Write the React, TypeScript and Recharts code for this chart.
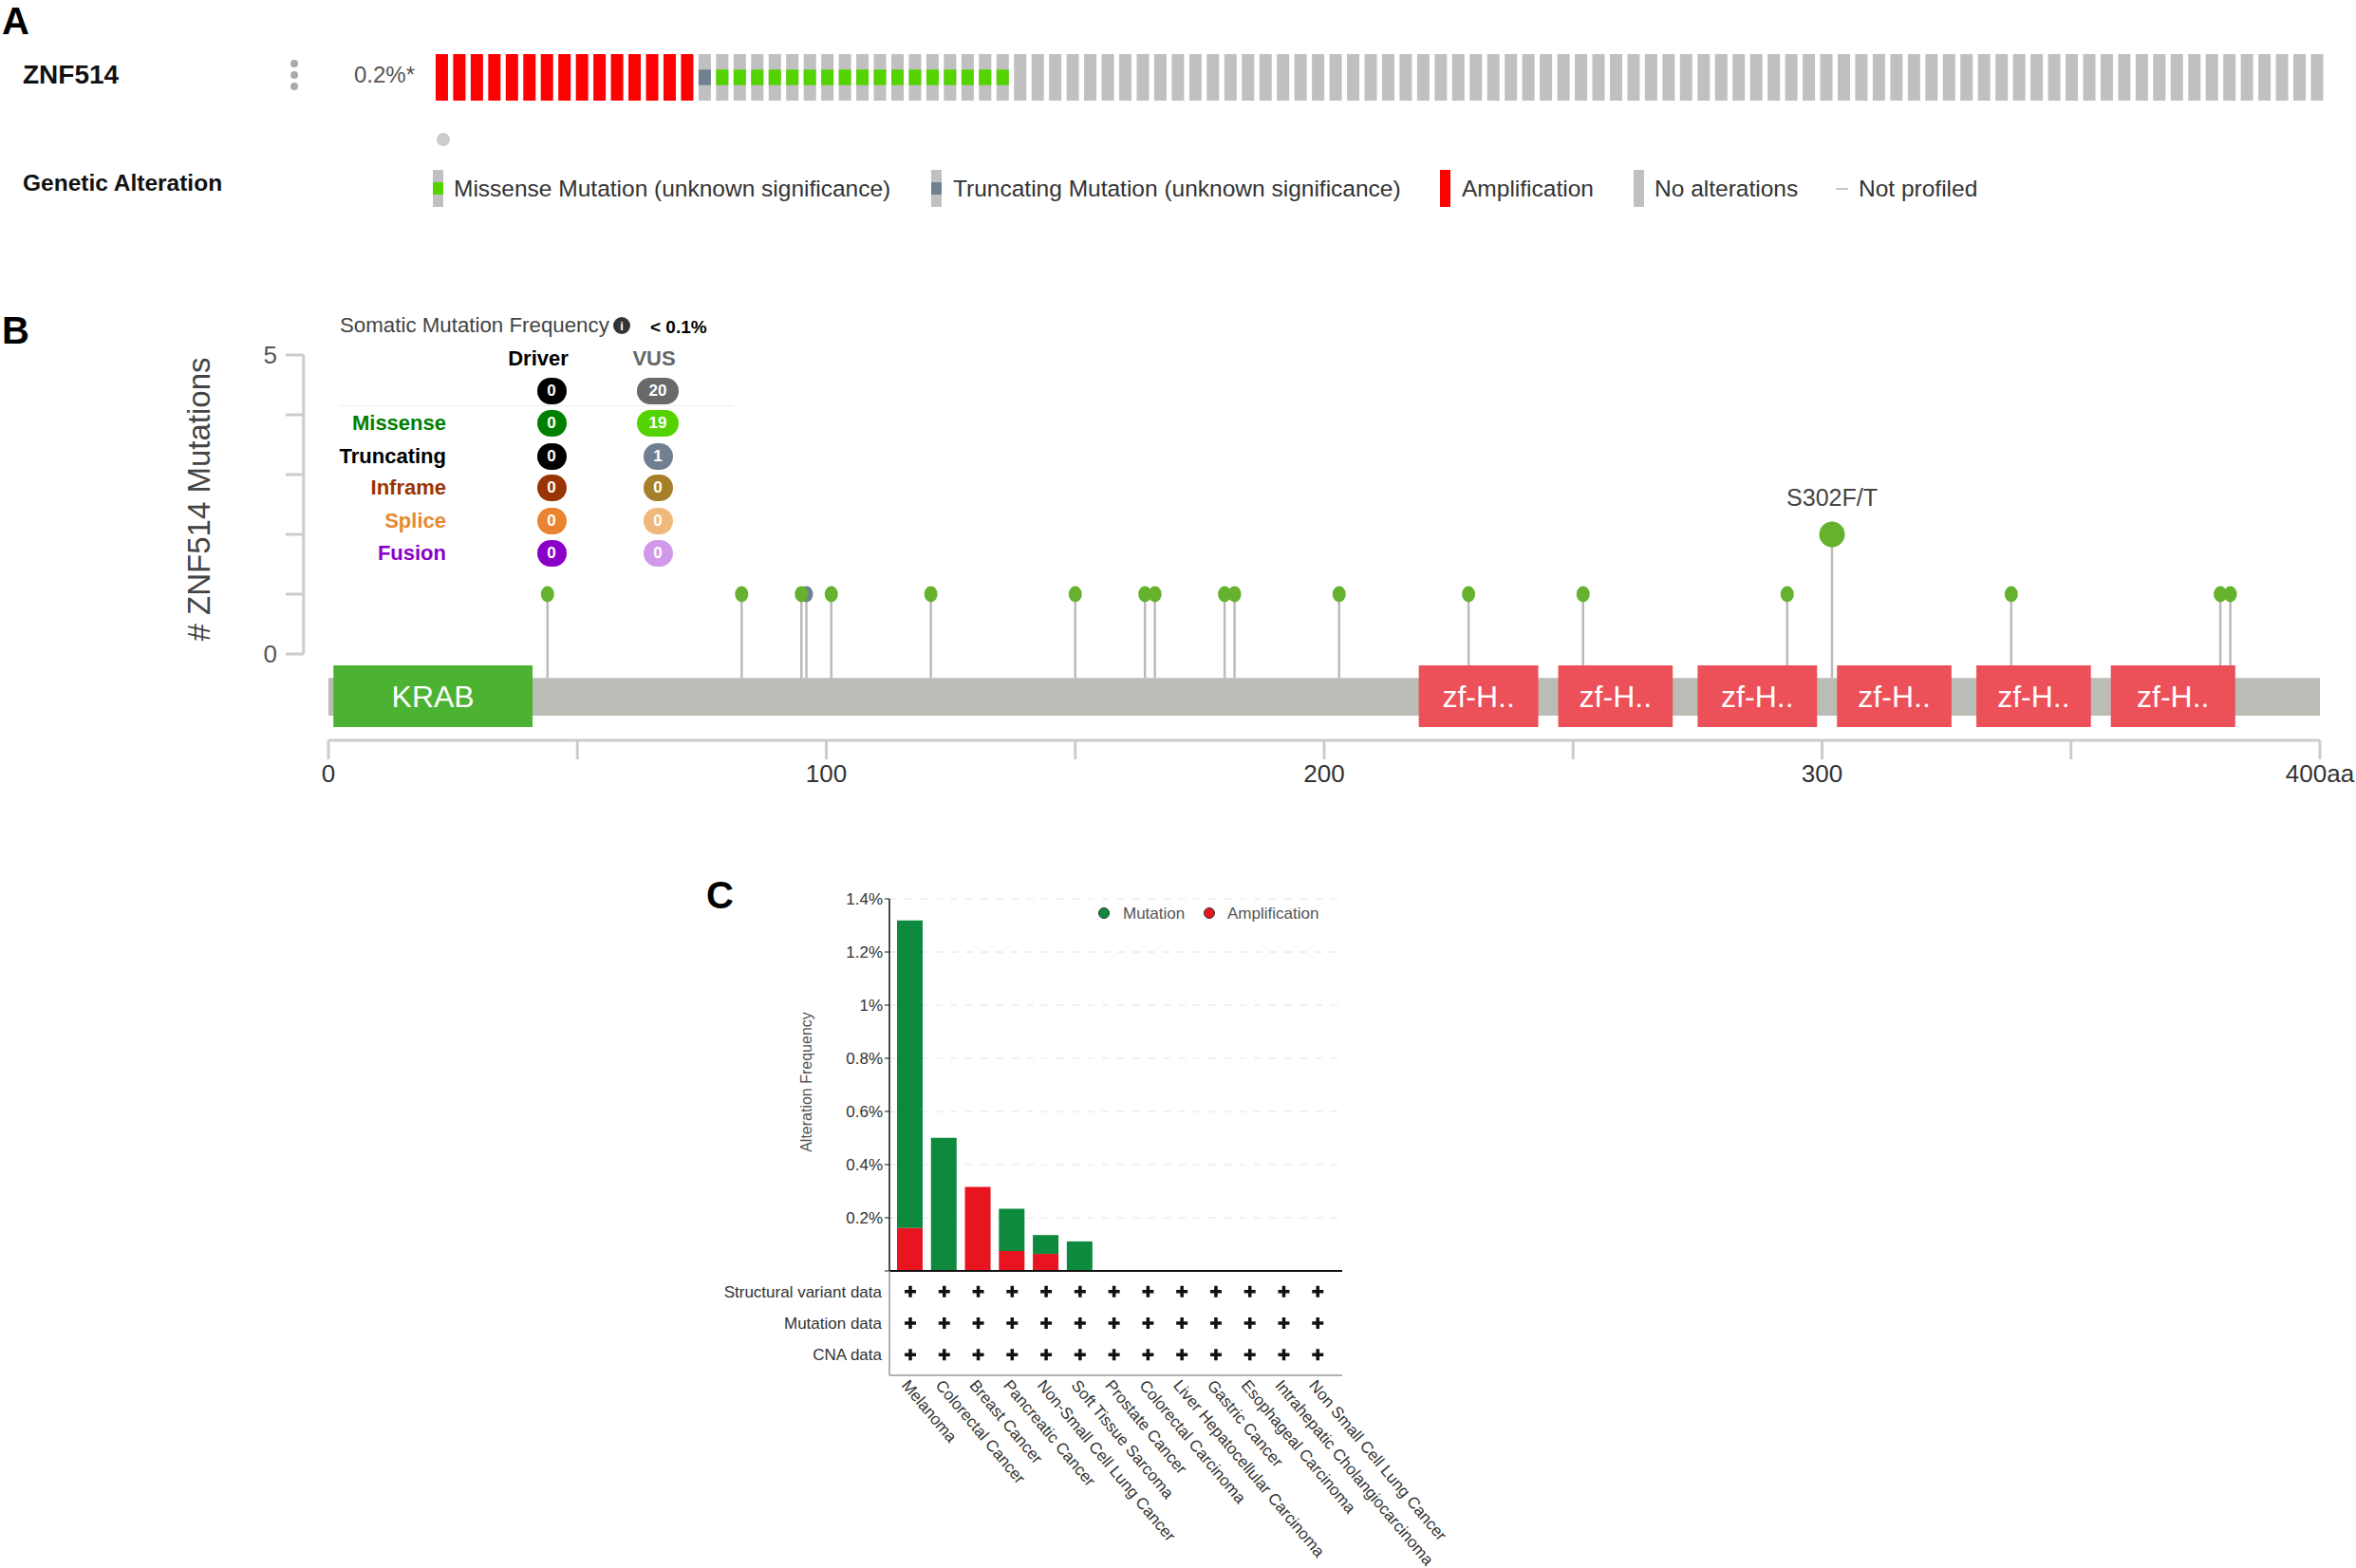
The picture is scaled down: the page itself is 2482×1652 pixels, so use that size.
import React from 'react'
import {
  BarChart, Bar, XAxis, YAxis, CartesianGrid, ScatterChart, Scatter,
  ReferenceLine, ReferenceArea,
} from 'recharts'

const FONT = "'Liberation Sans', Arial, Helvetica, sans-serif"

// ---------- A: oncoprint ----------
const alterationTypes = ['Amplification', 'Truncating', 'Missense', 'None']
const alterationSampleCounts = [15, 1, 17, 75]
const oncoLegendKinds = ['Missense', 'Truncating', 'Amplification', 'None', 'NotProfiled']
const oncoLegendLabels = [
  'Missense Mutation (unknown significance)',
  'Truncating Mutation (unknown significance)',
  'Amplification',
  'No alterations',
  'Not profiled',
]

// ---------- B: lollipop ----------
const proteinLength = 400
const domainNames = ['KRAB', 'zf-H..', 'zf-H..', 'zf-H..', 'zf-H..', 'zf-H..', 'zf-H..']
const domainStarts = [1, 219, 247, 275, 303, 331, 358]
const domainEnds = [41, 243, 270, 299, 326, 354, 383]
const mutationPositions = [44, 83, 95, 96, 101, 121, 150, 164, 166, 180, 182, 203, 229, 252, 293, 302, 338, 380, 382]
const mutationCounts = [1, 1, 1, 1, 1, 1, 1, 1, 1, 1, 1, 1, 1, 1, 1, 2, 1, 1, 1]
const mutationClasses = [
  'Missense', 'Missense', 'Missense', 'Truncating', 'Missense', 'Missense', 'Missense',
  'Missense', 'Missense', 'Missense', 'Missense', 'Missense', 'Missense', 'Missense',
  'Missense', 'Missense', 'Missense', 'Missense', 'Missense',
]
const mutationLabels = ['', '', '', '', '', '', '', '', '', '', '', '', '', '', '', 'S302F/T', '', '', '']
const aaTicks = [0, 50, 100, 150, 200, 250, 300, 350, 400]
const aaTickLabels = ['0', '', '100', '', '200', '', '300', '', '400aa']
const countTicks = [0, 1, 2, 3, 4, 5]

// mutation type table
const typeRowLabels = ['Missense', 'Truncating', 'Inframe', 'Splice', 'Fusion']
const driverCounts = [0, 0, 0, 0, 0]
const vusCounts = [19, 1, 0, 0, 0]
const driverTotal = 0
const vusTotal = 20

// ---------- C: cancer type summary ----------
const cancerTypes = [
  'Melanoma', 'Colorectal Cancer', 'Breast Cancer', 'Pancreatic Cancer',
  'Non-Small Cell Lung Cancer', 'Soft Tissue Sarcoma', 'Prostate Cancer',
  'Colorectal Carcinoma', 'Liver Hepatocellular Carcinoma', 'Gastric Cancer',
  'Esophageal Carcinoma', 'Intrahepatic Cholangiocarcinoma', 'Non Small Cell Lung Cancer',
]
const mutationFreq = [1.157, 0.501, 0, 0.159, 0.071, 0.111, 0, 0, 0, 0, 0, 0, 0]
const amplificationFreq = [0.162, 0, 0.316, 0.075, 0.064, 0, 0, 0, 0, 0, 0, 0, 0]
const freqTicks = [0, 0.2, 0.4, 0.6, 0.8, 1, 1.2, 1.4]
const profileRows = ['Structural variant data', 'Mutation data', 'CNA data']

// styles
const labelColors = ['#008000', '#000000', '#993404', '#e8892f', '#8b00c9']
const driverColors = ['#008000', '#000000', '#993404', '#ea8430', '#8b00c9']
const vusColors = ['#53d400', '#708090', '#a68028', '#f0b87b', '#d199ea']

// protein drawing levels (in mutation-count units, below the 0 line)
const BAR_TOP = -0.4
const BAR_BOTTOM = -1.03
const DOMAIN_TOP = -0.19
const DOMAIN_BOTTOM = -1.22

function Txt({ x, y, size, children, bold = false, color = '#333', align = 'left', rotate = 0 }: any) {
  const tx = align === 'left' ? '0' : align === 'center' ? '-50%' : '-100%'
  return (
    <div
      style={{
        position: 'absolute', left: x, top: y, whiteSpace: 'nowrap', lineHeight: 1,
        fontSize: size, fontWeight: bold ? 700 : 400, color, fontFamily: FONT,
        transform: `translate(${tx}, -50%)${rotate ? ` rotate(${rotate}deg)` : ''}`,
      }}
    >
      {children}
    </div>
  )
}

function Pill({ x, y, w, color, text }: any) {
  return (
    <div
      style={{
        position: 'absolute', left: x - w / 2, top: y - 14, width: w, height: 28, borderRadius: 14,
        background: color, color: '#fff', fontWeight: 700, fontSize: 17, fontFamily: FONT,
        display: 'flex', alignItems: 'center', justifyContent: 'center',
      }}
    >
      {text}
    </div>
  )
}

const OncoCell = (props: any) => {
  const { x, y, width, height, payload } = props
  const t = payload.type
  return (
    <g>
      <rect x={x} y={y} width={width} height={height} fill={t === 'Amplification' ? '#ff0000' : '#c0c0c0'} />
      {(t === 'Missense' || t === 'Truncating') && (
        <rect x={x} y={y + height / 3} width={width} height={height / 3} fill={t === 'Missense' ? '#53d400' : '#708090'} />
      )}
    </g>
  )
}

const CountTick = (props: any) => {
  const { x, y, payload } = props
  const v = payload.value
  return (
    <g>
      <line x1={x - 45} x2={x - 26} y1={y} y2={y} stroke="#ccc" strokeWidth={3} />
      {(v === 0 || v === 5) && (
        <text x={x - 54} y={y} dy="0.35em" textAnchor="end" fontSize={26} fill="#555" fontFamily={FONT}>{v}</text>
      )}
    </g>
  )
}

const LollipopHead = (props: any) => {
  const { cx, cy, payload } = props
  const big = payload.count > 1
  return (
    <g>
      <ellipse cx={cx} cy={cy} rx={big ? 13.5 : 7} ry={big ? 13.5 : 8.5} fill={payload.cls === 'Truncating' ? '#708090' : '#66b22e'} />
      {payload.label && (
        <text x={cx} y={cy - 30} textAnchor="middle" fontSize={25} fill="#444" fontFamily={FONT}>{payload.label}</text>
      )}
    </g>
  )
}

const RowTick = (props: any) => {
  const { x, y, payload } = props
  return (
    <text x={x} y={y} dy="0.35em" textAnchor="end" fontSize={17} fill="#333" fontFamily={FONT}>
      {profileRows[payload.value]}
    </text>
  )
}

const CancerTick = (props: any) => {
  const { x, y, payload } = props
  const ax = x - 10
  const ay = y + 11
  return (
    <text x={ax} y={ay} transform={`rotate(50, ${ax}, ${ay})`} textAnchor="start" fontSize={17} fill="#333" fontFamily={FONT}>
      {cancerTypes[payload.value]}
    </text>
  )
}

const PlusMark = (props: any) => {
  const { cx, cy } = props
  return <path d={`M${cx - 6},${cy}H${cx + 6}M${cx},${cy - 6}V${cy + 6}`} stroke="#111" strokeWidth={3.5} />
}

function LegendIcon({ kind, x }: any) {
  if (kind === 'NotProfiled') {
    return <div style={{ position: 'absolute', left: x, top: 198, width: 13, height: 2, background: '#c8c8c8' }} />
  }
  const bg = kind === 'Amplification' ? '#ff0000' : '#c0c0c0'
  return (
    <div style={{ position: 'absolute', left: x, top: 179, width: 11, height: 39, background: bg }}>
      {(kind === 'Missense' || kind === 'Truncating') && (
        <div style={{ position: 'absolute', left: 0, top: 13, width: 11, height: 13, background: kind === 'Missense' ? '#53d400' : '#708090' }} />
      )}
    </div>
  )
}

export default function App() {
  const oncoData = alterationTypes
    .flatMap((t, i) => Array.from({ length: alterationSampleCounts[i] }, () => t))
    .map((type, i) => ({ id: i, v: 1, type }))

  const lollipops = mutationPositions.map((pos, i) => ({
    pos, count: mutationCounts[i], cls: mutationClasses[i], label: mutationLabels[i],
  }))
  const stemBottom = (pos: number) =>
    domainStarts.some((s, j) => pos >= s && pos <= domainEnds[j]) ? DOMAIN_TOP : BAR_TOP

  const freqData = cancerTypes.map((c, i) => ({ cancer: c, amp: amplificationFreq[i], mut: mutationFreq[i] }))
  const profilePoints = profileRows.flatMap((_, ri) => cancerTypes.map((_c, ci) => ({ ci, ri })))

  const legendIconX = [456, 981, 1517, 1721, 1934]
  const legendTextX = [478, 1004, 1540, 1743, 1958]
  const rowY = [446, 481, 514, 549, 583]

  return (
    <div style={{ position: 'absolute', left: 0, top: 0, width: 2482, height: 1652, background: '#fff', fontFamily: FONT, overflow: 'hidden' }}>
      {/* ---------- A ---------- */}
      <Txt x={2} y={22} size={40} bold color="#000">A</Txt>
      <Txt x={24} y={79} size={28} bold color="#111">ZNF514</Txt>
      {[67, 79, 91].map((cy) => (
        <div key={cy} style={{ position: 'absolute', left: 306, top: cy - 4, width: 8, height: 8, borderRadius: 4, background: '#aaa' }} />
      ))}
      <Txt x={373} y={79} size={24} color="#555">0.2%*</Txt>
      <div style={{ position: 'absolute', left: 456, top: 57 }}>
        <BarChart width={1994} height={49} data={oncoData} margin={{ top: 0, right: 0, bottom: 0, left: 0 }} barCategoryGap="16%">
          <XAxis dataKey="id" hide />
          <YAxis domain={[0, 1]} hide />
          <Bar dataKey="v" shape={<OncoCell />} isAnimationActive={false} />
        </BarChart>
      </div>
      <div style={{ position: 'absolute', left: 460, top: 140, width: 14, height: 14, borderRadius: 7, background: '#ccc' }} />
      <Txt x={24} y={193} size={24.5} bold color="#111">Genetic Alteration</Txt>
      {oncoLegendKinds.map((k, i) => (
        <React.Fragment key={k}>
          <LegendIcon kind={k} x={legendIconX[i]} />
          <Txt x={legendTextX[i]} y={199} size={24.5} color="#333">{oncoLegendLabels[i]}</Txt>
        </React.Fragment>
      ))}

      {/* ---------- B ---------- */}
      <Txt x={2} y={348} size={40} bold color="#000">B</Txt>
      <Txt x={209} y={526} size={33} color="#444" align="center" rotate={-90}># ZNF514 Mutations</Txt>
      <div style={{ position: 'absolute', left: 0, top: 300 }}>
        <ScatterChart width={2482} height={560} margin={{ top: 74, right: 38, bottom: 0, left: 246 }}>
          <XAxis
            type="number" dataKey="pos" domain={[0, proteinLength]} ticks={aaTicks} interval={0}
            tickFormatter={(v: number) => aaTickLabels[aaTicks.indexOf(v)]}
            axisLine={{ stroke: '#ccc', strokeWidth: 3 }} tickLine={{ stroke: '#ccc', strokeWidth: 3 }}
            tickSize={20} tickMargin={6} height={80}
            tick={{ fontSize: 26, fill: '#333', fontFamily: FONT }}
          />
          <YAxis
            type="number" dataKey="count" domain={[-1.444, 5]} ticks={countTicks} interval={0} width={100}
            axisLine={false} tickLine={false} tickSize={0} tickMargin={0} tick={<CountTick />} allowDataOverflow
          />
          <ReferenceArea x1={0} x2={proteinLength} y1={BAR_BOTTOM} y2={BAR_TOP} fill="#babdb6" fillOpacity={1} stroke="none" />
          {domainNames.map((name, i) => (
            <ReferenceArea
              key={i} x1={domainStarts[i]} x2={domainEnds[i]} y1={DOMAIN_BOTTOM} y2={DOMAIN_TOP}
              fill={i === 0 ? '#4cb232' : '#ec5058'} fillOpacity={1} stroke="none"
              label={{ value: name, position: 'center', fill: '#fff', fontSize: 32, fontFamily: FONT }}
            />
          ))}
          <ReferenceLine segment={[{ x: -5, y: 0 }, { x: -5, y: 5 }]} stroke="#ccc" strokeWidth={3} ifOverflow="visible" />
          {lollipops.map((d, i) => (
            <ReferenceLine
              key={'stem' + i}
              segment={[{ x: d.pos, y: stemBottom(d.pos) }, { x: d.pos, y: d.count - 0.1 }]}
              stroke="#bbbbbb" strokeWidth={2.5}
            />
          ))}
          <Scatter data={lollipops.filter((d) => d.cls === 'Truncating')} shape={<LollipopHead />} isAnimationActive={false} />
          <Scatter data={lollipops.filter((d) => d.cls === 'Missense')} shape={<LollipopHead />} isAnimationActive={false} />
        </ScatterChart>
      </div>

      {/* mutation type table */}
      <Txt x={358} y={343} size={22.3} color="#444">Somatic Mutation Frequency</Txt>
      <div
        style={{
          position: 'absolute', left: 646, top: 334, width: 18, height: 18, borderRadius: 9, background: '#333',
          color: '#fff', fontSize: 13, fontWeight: 700, fontFamily: FONT, display: 'flex', alignItems: 'center', justifyContent: 'center',
        }}
      >
        i
      </div>
      <Txt x={685} y={344} size={19} bold color="#000">{'< 0.1%'}</Txt>
      <Txt x={567} y={378} size={22} bold color="#000" align="center">Driver</Txt>
      <Txt x={689} y={378} size={22} bold color="#666" align="center">VUS</Txt>
      <Pill x={581} y={412} w={31} color="#000" text={driverTotal} />
      <Pill x={693} y={412} w={44} color="#696969" text={vusTotal} />
      <div style={{ position: 'absolute', left: 358, top: 427, width: 414, height: 1, background: '#eee' }} />
      {typeRowLabels.map((lab, i) => (
        <React.Fragment key={lab}>
          <Txt x={470} y={rowY[i]} size={22} bold color={labelColors[i]} align="right">{lab}</Txt>
          <Pill x={581} y={rowY[i]} w={31} color={driverColors[i]} text={driverCounts[i]} />
          <Pill x={693} y={rowY[i]} w={vusCounts[i] > 9 ? 44 : 31} color={vusColors[i]} text={vusCounts[i]} />
        </React.Fragment>
      ))}

      {/* ---------- C ---------- */}
      <Txt x={744} y={943} size={40} bold color="#000">C</Txt>
      <Txt x={850} y={1140} size={16} color="#555" align="center" rotate={-90}>Alteration Frequency</Txt>
      <div style={{ position: 'absolute', left: 780, top: 920 }}>
        <BarChart width={660} height={430} data={freqData} margin={{ top: 27, right: 26, bottom: 0, left: 97 }} barSize={27}>
          <CartesianGrid vertical={false} stroke="#e4e4e4" strokeDasharray="8 8" />
          <XAxis dataKey="cancer" tick={false} tickLine={false} height={11} padding={{ left: 4, right: 8 }} axisLine={{ stroke: '#111', strokeWidth: 2 }} />
          <YAxis
            domain={[0, 1.4]} ticks={freqTicks} interval={0} width={60} tickSize={5} tickMargin={2}
            tickFormatter={(v: number) => (v === 0 ? '' : `${Math.round(v * 10) / 10}%`)}
            axisLine={{ stroke: '#111', strokeWidth: 1.5 }} tickLine={{ stroke: '#111' }}
            tick={{ fontSize: 17, fill: '#333', fontFamily: FONT }}
          />
          <Bar dataKey="amp" stackId="f" fill="#e8141f" isAnimationActive={false} />
          <Bar dataKey="mut" stackId="f" fill="#0e8a3e" isAnimationActive={false} />
        </BarChart>
      </div>
      {/* legend */}
      <div style={{ position: 'absolute', left: 1157, top: 956, width: 10, height: 10, borderRadius: 6, background: '#0e8a3e', border: '1px solid #333' }} />
      <Txt x={1183} y={962} size={17} color="#555">Mutation</Txt>
      <div style={{ position: 'absolute', left: 1268, top: 956, width: 10, height: 10, borderRadius: 6, background: '#e8141f', border: '1px solid #333' }} />
      <Txt x={1293} y={962} size={17} color="#555">Amplification</Txt>

      {/* profiled matrix */}
      <div style={{ position: 'absolute', left: 700, top: 1339 }}>
        <ScatterChart width={840} height={313} margin={{ top: 0, right: 126, bottom: 0, left: 177 }}>
          <XAxis
            type="number" dataKey="ci" domain={[-0.615, 12.72]} ticks={cancerTypes.map((_, i) => i)} interval={0}
            height={203} axisLine={{ stroke: '#999', strokeWidth: 1.5 }} tickLine={false} tickSize={0} tickMargin={0}
            tick={<CancerTick />} allowDataOverflow
          />
          <YAxis
            type="number" dataKey="ri" domain={[-0.65, 2.65]} reversed ticks={[0, 1, 2]} interval={0} width={60}
            axisLine={{ stroke: '#999', strokeWidth: 1.5 }} tickLine={false} tickSize={5} tickMargin={3}
            tick={<RowTick />} allowDataOverflow
          />
          <Scatter data={profilePoints} shape={<PlusMark />} isAnimationActive={false} />
        </ScatterChart>
      </div>
    </div>
  )
}
